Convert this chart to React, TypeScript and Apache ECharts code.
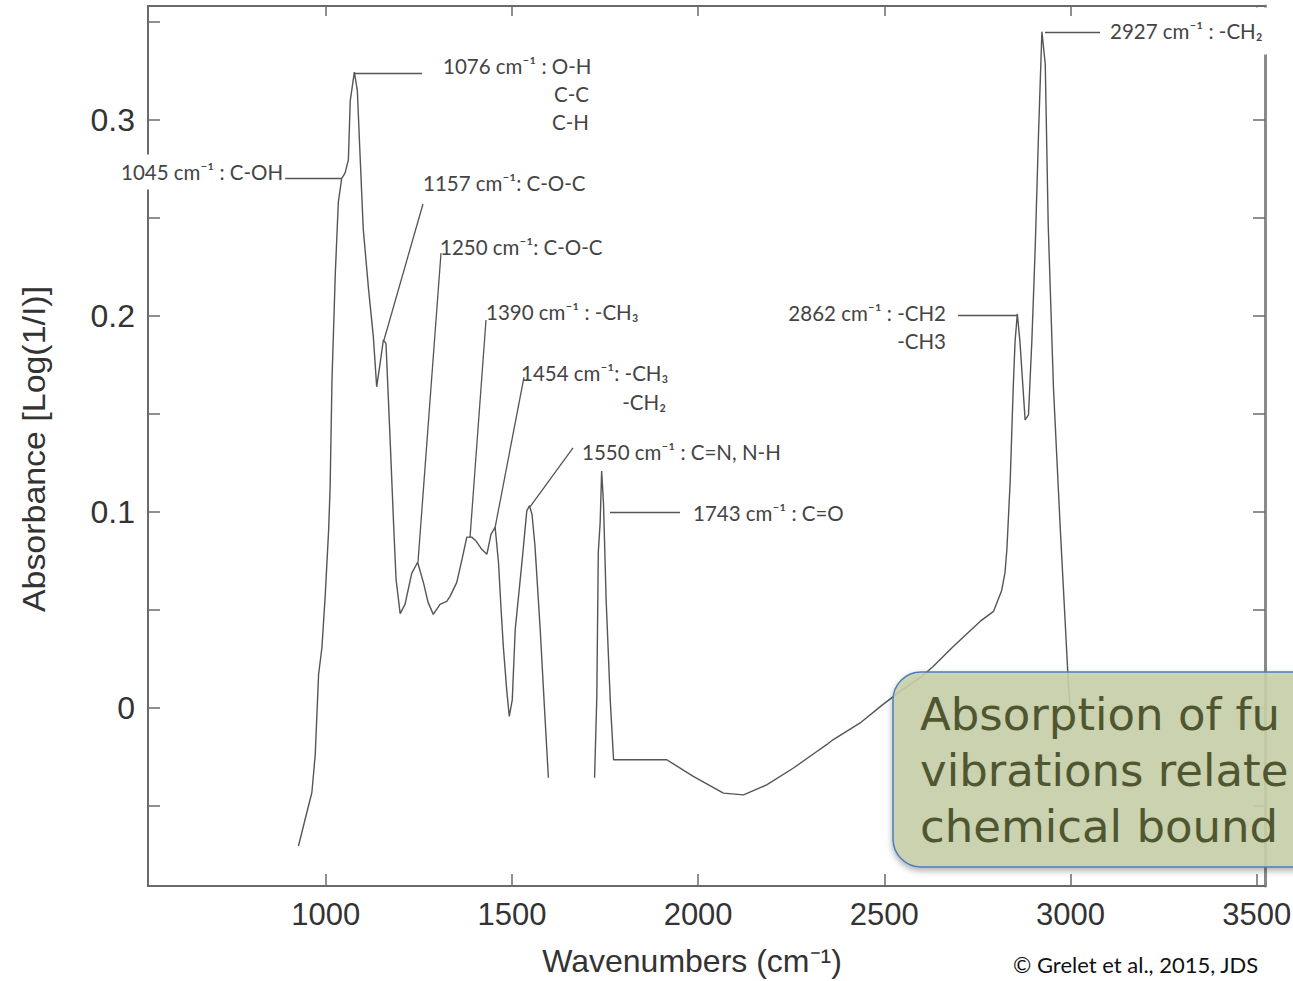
import React, { useEffect, useRef } from "react";
import * as echarts from "echarts";

// ---- data (wavenumber in cm-1, absorbance) ----
const wavenumbersA = [927, 945, 963, 972, 981, 990, 999, 1008, 1012, 1017, 1026, 1034, 1043, 1052, 1061, 1066, 1077, 1085, 1093, 1101, 1115, 1128, 1137, 1146, 1155, 1162, 1173, 1183, 1189, 1200, 1213, 1231, 1247, 1263, 1275, 1289, 1307, 1325, 1334, 1352, 1366, 1379, 1392, 1404, 1419, 1433, 1444, 1455, 1464, 1471, 1477, 1486, 1493, 1501, 1509, 1527, 1540, 1547, 1554, 1562, 1576, 1587, 1598];
const absorbanceA = [-0.0706, -0.0568, -0.0433, -0.024, 0.0169, 0.0307, 0.0578, 0.0907, 0.1125, 0.1673, 0.222, 0.2578, 0.27, 0.2727, 0.2795, 0.3096, 0.3243, 0.315, 0.279, 0.244, 0.2138, 0.1893, 0.1637, 0.1754, 0.1877, 0.1857, 0.137, 0.091, 0.0655, 0.048, 0.0527, 0.0685, 0.0742, 0.0634, 0.0537, 0.0476, 0.0527, 0.0542, 0.0568, 0.0639, 0.0757, 0.087, 0.087, 0.085, 0.0808, 0.0783, 0.0885, 0.092, 0.0742, 0.05, 0.0312, 0.0092, -0.0045, 0.004, 0.04, 0.0742, 0.1004, 0.103, 0.0987, 0.0825, 0.04, 0.0015, -0.0358];

const wavenumbersB = [1722, 1728, 1732, 1737, 1741, 1746, 1753, 1764, 1773, 1844, 1916, 1987, 2068, 2122, 2184, 2256, 2314, 2345, 2362, 2435, 2489, 2542, 2596, 2631, 2685, 2757, 2793, 2815, 2824, 2829, 2838, 2846, 2851, 2857, 2864, 2878, 2887, 2896, 2905, 2914, 2923, 2932, 2940, 2954, 2972, 2985, 2994, 3003];
const absorbanceB = [-0.0358, 0.0056, 0.0793, 0.0946, 0.1207, 0.1038, 0.0552, 0.0041, -0.0266, -0.0266, -0.0266, -0.0351, -0.0436, -0.0445, -0.0394, -0.0308, -0.023, -0.0189, -0.0164, -0.0078, 0.0005, 0.0083, 0.0153, 0.021, 0.0312, 0.044, 0.0491, 0.0598, 0.069, 0.0808, 0.1161, 0.1633, 0.1869, 0.201, 0.1869, 0.1468, 0.1494, 0.1869, 0.2343, 0.2931, 0.3449, 0.3284, 0.246, 0.1633, 0.0926, 0.0455, 0.0125, -0.0113];

const xTicks = [1000, 1500, 2000, 2500, 3000, 3500];
const yTicks = [-0.05, 0, 0.05, 0.1, 0.15, 0.2, 0.25, 0.3, 0.35];
const yLabels = [0, 0.1, 0.2, 0.3];

// leader lines of the peak annotations: [x1, y1, x2, y2] in data units
const leaderLines = [
  [1078.8, 0.3238, 1258.7, 0.3238],
  [890.8, 0.2702, 1041.2, 0.2702],
  [1156.6, 0.1876, 1261.3, 0.257],
  [1247.9, 0.0743, 1309.7, 0.232],
  [1387.5, 0.0866, 1430.5, 0.1978],
  [1454.7, 0.0917, 1532.5, 0.1687],
  [1548.6, 0.1024, 1664.1, 0.1325],
  [1763.4, 0.0998, 1951.4, 0.0998],
  [2697.8, 0.2003, 2856.2, 0.2003],
  [2931.3, 0.3447, 3079.0, 0.3447],
];

const annotationTexts = [
  "1076 cm⁻¹ : O-H",
  "C-C",
  "C-H",
  "1045 cm⁻¹ : C-OH",
  "1157 cm⁻¹: C-O-C",
  "1250 cm⁻¹: C-O-C",
  "1390 cm⁻¹ : -CH₃",
  "1454 cm⁻¹: -CH₃",
  "-CH₂",
  "1550 cm⁻¹ : C=N, N-H",
  "1743 cm⁻¹ : C=O",
  "2862 cm⁻¹ : -CH2",
  "-CH3",
  "2927 cm⁻¹ : -CH₂",
];

const xAxisTitle = "Wavenumbers (cm⁻¹)";
const yAxisTitle = "Absorbance [Log(1/I)]";
// the reference crops this callout at the right edge of the picture
const boxText = "Absorption of fu\nvibrations relate\nchemical bound";
const creditText = "© Grelet et al., 2015, JDS";

export default function App() {
  const ref = useRef<HTMLDivElement>(null);

  useEffect(() => {
    if (!ref.current) return;
    const chart = echarts.init(ref.current, null, { renderer: "svg" });

    const AX = "#6a6a6a";
    const LINE = "#555555";
    const annFont = { fontFamily: "Lato", fontSize: 20.5, fill: "#444444" };

    // pixel layout of the annotation texts: [x, y, align, whiteBg]
    const annLayout: [number, number, string, boolean][] = [
      [443, 66, "left", false],
      [589, 94, "right", false],
      [589, 122, "right", false],
      [119, 172, "left", true],
      [423, 183, "left", false],
      [440, 247, "left", false],
      [486, 312, "left", false],
      [521, 373, "left", false],
      [666, 402, "right", false],
      [582, 452, "left", false],
      [693, 513, "left", false],
      [946, 313, "right", false],
      [946, 341, "right", false],
      [1106, 31, "left", true],
    ];

    const annGraphics = annotationTexts.map((t, i) => {
      const [x, y, align, bg] = annLayout[i];
      return {
        type: "text",
        x,
        y,
        z: 100,
        style: {
          text: t,
          ...annFont,
          align,
          verticalAlign: "middle",
          ...(bg
            ? { backgroundColor: "#ffffff", padding: i === 3 ? [12, 2, 2, 2] : [8, 14, 18, 4] }
            : {}),
        },
      };
    });

    const option: any = {
      animation: false,
      backgroundColor: "#ffffff",
      grid: { left: 148, right: 28, top: 6, bottom: 95, containLabel: false, outerBoundsMode: "none" },
      xAxis: [
        {
          type: "value",
          min: 523,
          max: 3522,
          position: "bottom",
          axisLine: { show: true, onZero: false, lineStyle: { color: AX, width: 2 } },
          axisTick: { show: true, inside: true, length: 12, customValues: xTicks, lineStyle: { color: AX, width: 1.5 } },
          axisLabel: {
            customValues: xTicks,
            formatter: (v: number) => String(Math.round(v)),
            fontFamily: "Liberation Sans",
            fontSize: 31,
            color: "#333333",
            margin: 13,
          },
          splitLine: { show: false },
        },
        {
          type: "value",
          min: 523,
          max: 3522,
          position: "top",
          axisLine: { show: true, onZero: false, lineStyle: { color: AX, width: 2 } },
          axisTick: { show: true, inside: true, length: 10, customValues: xTicks, lineStyle: { color: AX, width: 1.5 } },
          axisLabel: { show: false },
          splitLine: { show: false },
        },
      ],
      yAxis: [
        {
          type: "value",
          min: -0.091,
          max: 0.358,
          position: "left",
          axisLine: { show: true, onZero: false, lineStyle: { color: AX, width: 2 } },
          axisTick: { show: true, inside: true, length: 12, customValues: yTicks, lineStyle: { color: AX, width: 1.5 } },
          axisLabel: {
            customValues: yLabels,
            formatter: (v: number) => (Math.abs(v) < 1e-9 ? "0" : v.toFixed(1)),
            fontFamily: "Liberation Sans",
            fontSize: 32,
            color: "#333333",
            margin: 13,
          },
          splitLine: { show: false },
        },
        {
          type: "value",
          min: -0.091,
          max: 0.358,
          position: "right",
          axisLine: { show: true, onZero: false, lineStyle: { color: "#8a8a8a", width: 3 } },
          axisTick: { show: true, inside: true, length: 12, customValues: yTicks, lineStyle: { color: AX, width: 1.5 } },
          axisLabel: { show: false },
          splitLine: { show: false },
        },
      ],
      series: [
        {
          type: "line",
          data: wavenumbersA.map((w, i) => [w, absorbanceA[i]]),
          showSymbol: false,
          symbol: "none",
          lineStyle: { color: LINE, width: 1.4 },
          z: 5,
          markLine: {
            silent: true,
            symbol: ["none", "none"],
            label: { show: false },
            lineStyle: { color: LINE, width: 1.3, type: "solid" },
            data: leaderLines.map(([x1, y1, x2, y2]) => [{ coord: [x1, y1] }, { coord: [x2, y2] }]),
          },
        },
        {
          type: "line",
          data: wavenumbersB.map((w, i) => [w, absorbanceB[i]]),
          showSymbol: false,
          symbol: "none",
          lineStyle: { color: LINE, width: 1.4 },
          z: 5,
        },
      ],
      graphic: [
        ...annGraphics,
        {
          type: "text",
          x: 692,
          y: 961,
          z: 100,
          style: {
            text: xAxisTitle,
            fontFamily: "Liberation Sans",
            fontSize: 32,
            fill: "#333333",
            align: "center",
            verticalAlign: "middle",
          },
        },
        {
          type: "text",
          x: 34,
          y: 449,
          rotation: Math.PI / 2,
          scaleX: 1.06,
          z: 100,
          style: {
            text: yAxisTitle,
            fontFamily: "Liberation Sans",
            fontSize: 32,
            fill: "#333333",
            align: "center",
            verticalAlign: "middle",
          },
        },
        {
          type: "text",
          x: 1013,
          y: 964,
          z: 100,
          style: {
            text: creditText,
            fontFamily: "Lato",
            fontSize: 22,
            fill: "#111111",
            align: "left",
            verticalAlign: "middle",
          },
        },
        {
          type: "rect",
          z: 110,
          shape: { x: 893, y: 672, width: 460, height: 195, r: 28 },
          style: {
            fill: "rgba(200,209,170,0.88)",
            stroke: "#4a7ebb",
            lineWidth: 1.5,
            shadowBlur: 6,
            shadowOffsetY: 3,
            shadowColor: "rgba(0,0,0,0.35)",
          },
        },
        {
          type: "text",
          x: 920,
          y: 686,
          z: 111,
          style: {
            text: boxText,
            fontFamily: "DejaVu Sans",
            fontSize: 45,
            lineHeight: 56,
            fill: "#4f5630",
            align: "left",
            verticalAlign: "top",
          },
        },
      ],
    };

    chart.setOption(option);
    return () => chart.dispose();
  }, []);

  return (
    <div
      ref={ref}
      style={{ position: "fixed", left: 0, top: 0, width: 1293, height: 981 }}
    />
  );
}
